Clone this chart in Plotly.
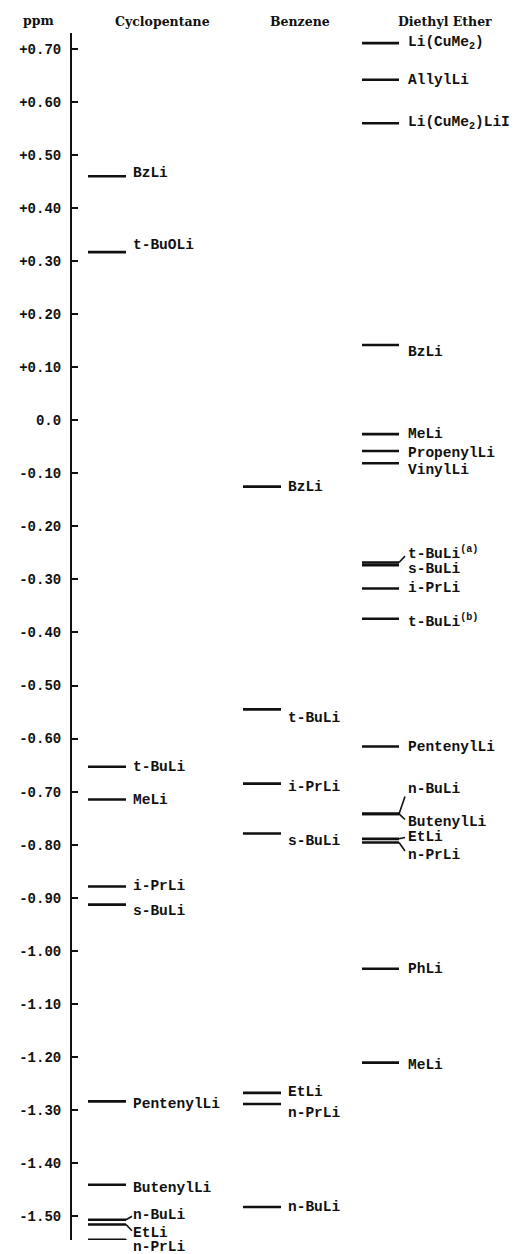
import plotly.graph_objects as go

# ---------------- DATA (chemical shifts, ppm) ----------------
cyclo_labels = ["BzLi", "t-BuOLi", "t-BuLi", "MeLi", "i-PrLi", "s-BuLi",
                "PentenylLi", "ButenylLi", "n-BuLi", "EtLi", "n-PrLi"]
cyclo_ppm = [0.460, 0.317, -0.653, -0.715, -0.879, -0.913,
             -1.284, -1.441, -1.507, -1.516, -1.545]

benzene_labels = ["BzLi", "t-BuLi", "i-PrLi", "s-BuLi", "EtLi", "n-PrLi", "n-BuLi"]
benzene_ppm = [-0.125, -0.545, -0.685, -0.779, -1.268, -1.289, -1.483]

ether_labels = ["Li(CuMe<sub>2</sub>)", "AllylLi", "Li(CuMe<sub>2</sub>)LiI", "BzLi",
                "MeLi", "PropenylLi", "VinylLi", "t-BuLi<sup>(a)</sup>", "s-BuLi",
                "i-PrLi", "t-BuLi<sup>(b)</sup>", "PentenylLi", "n-BuLi", "ButenylLi",
                "EtLi", "n-PrLi", "PhLi", "MeLi"]
ether_ppm = [0.711, 0.642, 0.560, 0.142, -0.026, -0.058, -0.081, -0.268, -0.273,
             -0.317, -0.374, -0.615, -0.742, -0.742, -0.789, -0.796, -1.034, -1.211]

tick_vals = [0.7, 0.6, 0.5, 0.4, 0.3, 0.2, 0.1, 0.0, -0.1, -0.2, -0.3, -0.4,
             -0.5, -0.6, -0.7, -0.8, -0.9, -1.0, -1.1, -1.2, -1.3, -1.4, -1.5]
tick_text = ["+0.70", "+0.60", "+0.50", "+0.40", "+0.30", "+0.20", "+0.10", "0.0",
             "-0.10", "-0.20", "-0.30", "-0.40", "-0.50", "-0.60", "-0.70", "-0.80",
             "-0.90", "-1.00", "-1.10", "-1.20", "-1.30", "-1.40", "-1.50"]

column_titles = ["Cyclopentane", "Benzene", "Diethyl Ether"]

# ---------------- STYLE / LAYOUT ----------------
W, H = 517, 1254
ZERO_PX = 420.3        # pixel row of 0.0 ppm
SCALE = 530.45         # pixels per ppm
Y_TOP_PX, Y_BOT_PX = 33, 1240
AXIS_X = 71

# label vertical offsets (pixels, + = below the line) and leader flags
cyclo_dy = [-3, -7, 0, 0, -1, 6, 3, 3, -5, 9, 7]
cyclo_leader = [0, 0, 0, 0, 0, 0, 0, 0, 1, 1, 1]
benzene_dy = [0, 9, 3, 7, -1, 9, 0]
benzene_leader = [0, 0, 0, 0, 0, 0, 0]
ether_dy = [0, 0, 0, 7, 0, 2, 7, -9, 4, 0, 2, 0, -25, 8, -2, 12, 0, 2]
ether_leader = [0, 0, 0, 0, 0, 0, 0, 1, 0, 0, 0, 0, 1, 1, 1, 1, 0, 0]

# (line start x, line end x, label x, title x)
col_geom = [(88, 126, 131, 162), (243, 281, 286, 300), (362, 399, 406, 445)]

LABEL_FONT = dict(family="Liberation Mono", size=14.5, color="#111111", weight="bold")
TITLE_FONT = dict(family="DejaVu Serif", size=12.5, color="#111111", weight="bold")
TICK_FONT = dict(family="Liberation Mono", size=14, color="#111111", weight="bold")

y_range = [(ZERO_PX - Y_BOT_PX) / SCALE, (ZERO_PX - Y_TOP_PX) / SCALE]
y_domain = [1 - Y_BOT_PX / H, 1 - Y_TOP_PX / H]

fig = go.Figure()
annotations = []

columns = [
    (cyclo_labels, cyclo_ppm, cyclo_dy, cyclo_leader),
    (benzene_labels, benzene_ppm, benzene_dy, benzene_leader),
    (ether_labels, ether_ppm, ether_dy, ether_leader),
]

for (labels, vals, dys, leaders), (x0, x1, lx, tx), title in zip(columns, col_geom, column_titles):
    xs, ys = [], []
    for v in vals:
        xs += [x0, x1, None]
        ys += [v, v, None]
    fig.add_trace(go.Scatter(x=xs, y=ys, mode="lines", cliponaxis=False,
                             line=dict(color="#111111", width=2.6),
                             hoverinfo="skip", showlegend=False))
    lxs, lys = [], []
    for v, dy, lead in zip(vals, dys, leaders):
        if lead:
            lxs += [x1, x1 + 6, None]
            lys += [v, v - dy * 0.7 / SCALE, None]
    if lxs:
        fig.add_trace(go.Scatter(x=lxs, y=lys, mode="lines", cliponaxis=False,
                                 line=dict(color="#111111", width=1.6),
                                 hoverinfo="skip", showlegend=False))
    for lab, v, dy in zip(labels, vals, dys):
        annotations.append(dict(x=lx, y=v, xref="x", yref="y", text=lab,
                                showarrow=False, xanchor="left", yanchor="middle",
                                yshift=-dy, font=LABEL_FONT))
    annotations.append(dict(x=tx, y=1 - 21 / H, xref="x", yref="paper", text=title,
                            showarrow=False, xanchor="center", yanchor="middle",
                            font=TITLE_FONT))

annotations.append(dict(x=38, y=1 - 20 / H, xref="x", yref="paper", text="ppm",
                        showarrow=False, xanchor="center", yanchor="middle",
                        font=TITLE_FONT))

fig.update_layout(
    width=W, height=H,
    margin=dict(l=0, r=0, t=0, b=0),
    paper_bgcolor="white", plot_bgcolor="white",
    showlegend=False,
    annotations=annotations,
    xaxis=dict(range=[0, W], domain=[0, 1], visible=False, fixedrange=True),
    yaxis=dict(range=y_range, domain=y_domain, anchor="free", position=AXIS_X / W,
               side="left", showline=True, linecolor="#111111", linewidth=2,
               ticks="inside", ticklen=6, tickwidth=2, tickcolor="#111111",
               tickvals=tick_vals, ticktext=tick_text, tickfont=TICK_FONT,
               ticklabelstandoff=6, showgrid=False, zeroline=False, fixedrange=True),
)

fig.write_html("out.html")
